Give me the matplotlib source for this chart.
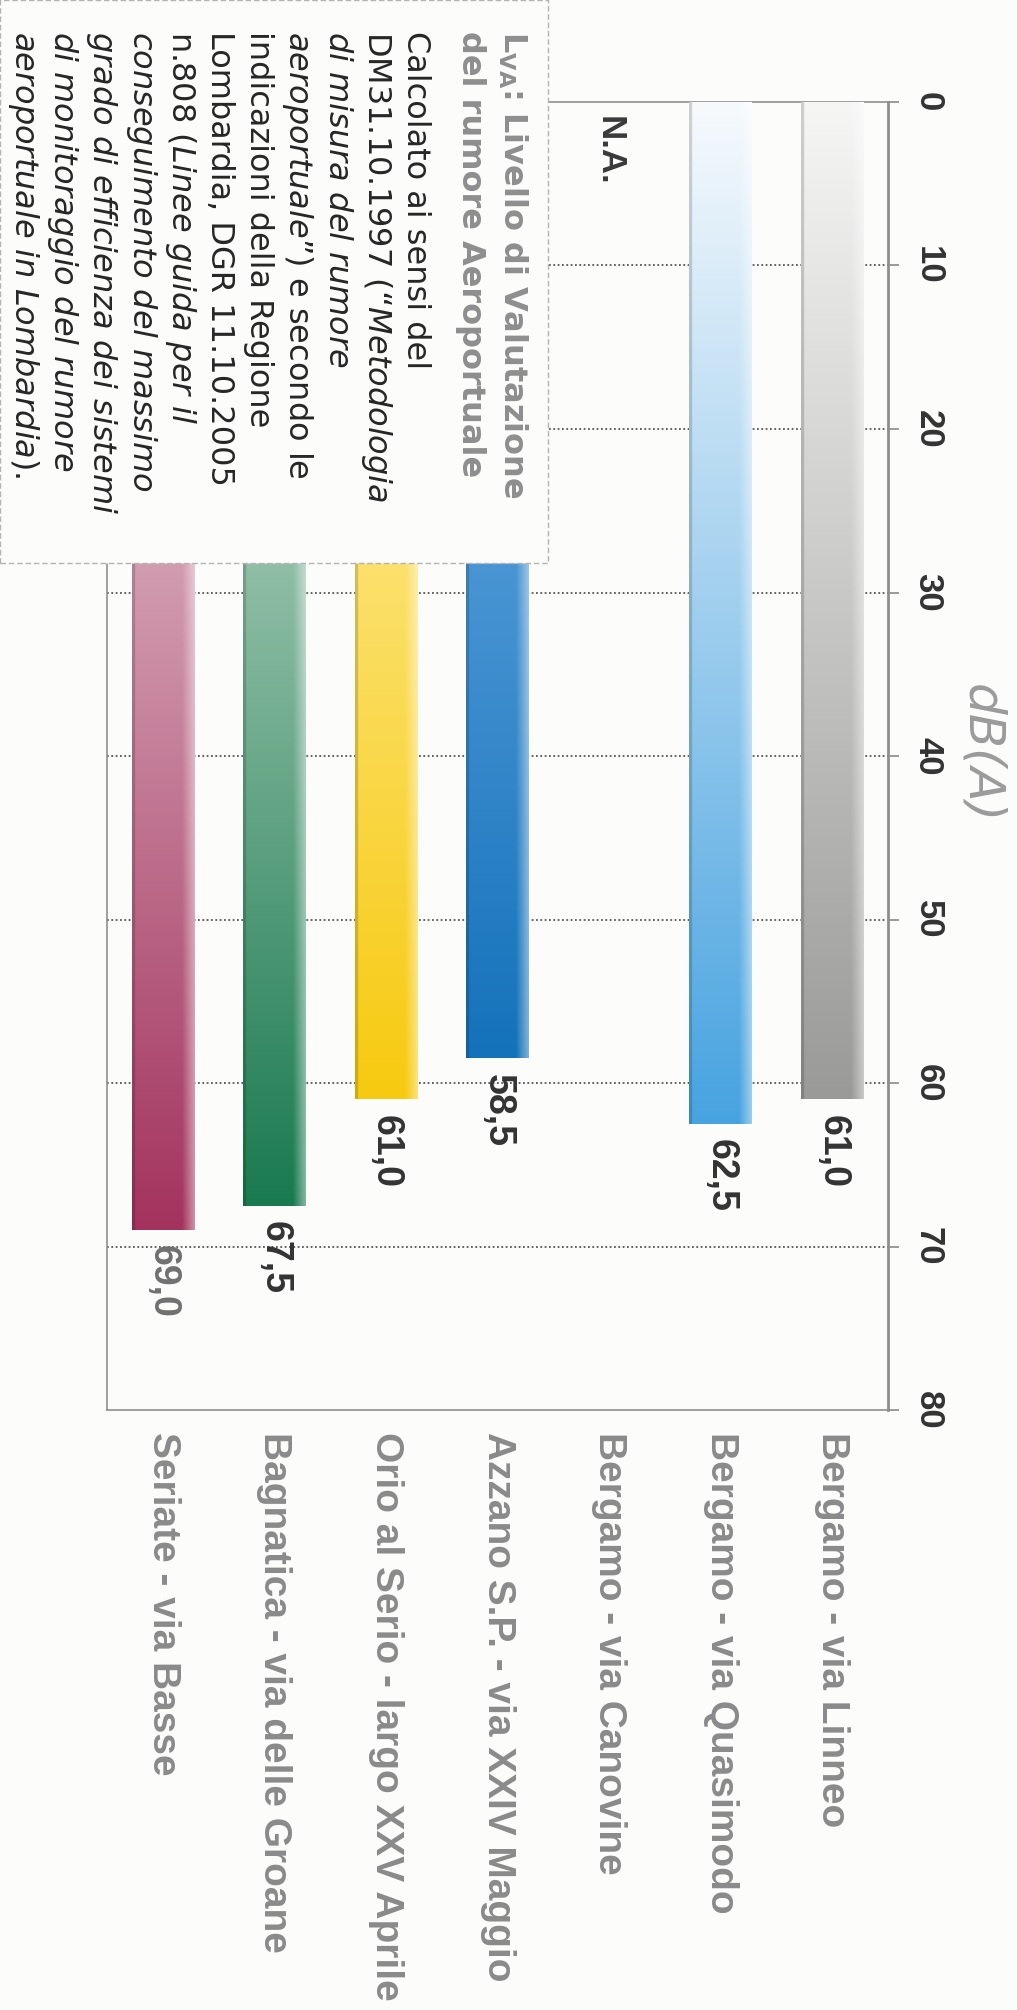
import numpy as np
import matplotlib.pyplot as plt
from matplotlib.colors import to_rgb
from matplotlib.patches import Rectangle

plt.rcParams["mathtext.fontset"] = "custom"
plt.rcParams["mathtext.rm"] = "DejaVu Sans"
plt.rcParams["mathtext.it"] = "DejaVu Sans:italic"
plt.rcParams["mathtext.bf"] = "DejaVu Sans:bold"

# data
sites = ["Bergamo - via Linneo", "Bergamo - via Quasimodo", "Bergamo - via Canovine",
         "Azzano S.P. - via XXIV Maggio", "Orio al Serio - largo XXV Aprile",
         "Bagnatica - via delle Groane", "Seriate - via Basse"]
lva = [61.0, 62.5, np.nan, 58.5, 61.0, 67.5, 69.0]
top_colors = ["#f6f6f5", "#f7fafd", "#ffffff", "#7cb6ec", "#fff4bc", "#e4efe4", "#f2e5ea"]
end_colors = ["#9a9a98", "#47a3e0", "#ffffff", "#1472ba", "#f7ca10", "#1a7a4f", "#a3335d"]
value_colors = ["#333333", "#333333", "#333333", "#333333", "#333333", "#333333", "#707070"]
ticks = list(range(0, 90, 10))

title_lines = [r"$\mathbf{L}_{\mathbf{VA}}$: Livello di Valutazione",
               "del rumore Aeroportuale"]
note_lines = ["Calcolato ai sensi del",
              r"DM31.10.1997 (“$\mathit{Metodologia}$",
              r"$\mathit{di\ misura\ del\ rumore}$",
              r"$\mathit{aeroportuale}$”) e secondo le",
              "indicazioni della Regione",
              "Lombardia, DGR 11.10.2005",
              r"n.808 ($\mathit{Linee\ guida\ per\ il}$",
              r"$\mathit{conseguimento\ del\ massimo}$",
              r"$\mathit{grado\ di\ efficienza\ dei\ sistemi}$",
              r"$\mathit{di\ monitoraggio\ del\ rumore}$",
              r"$\mathit{aeroportuale\ in\ Lombardia}$)."]

W, H = 1017, 2010
paper = "#fcfcfa"
label_font = "Liberation Sans"


def fx(px):
    return px / W


def fy(py):
    return 1 - py / H


fig = plt.figure(figsize=(W / 100, H / 100), dpi=100, facecolor=paper)
ax = fig.add_axes([fx(107), fy(1410), fx(888) - fx(107), fy(102) - fy(1410)])
ax.set_facecolor("none")

x = np.arange(len(sites))
bars = ax.bar(x, lva, width=0.56, color="none", edgecolor="none", zorder=3)

# gradient fill for each bar (light at 0 dB, saturated at the end)
ncol = 60
s = np.linspace(0, 1, ncol)
for rect, c0, c1 in zip(bars, top_colors, end_colors):
    h = rect.get_height()
    if np.isnan(h):
        continue
    t = np.linspace(0, 1, 300)[:, None]
    grad = (1 - t) * np.array(to_rgb(c0)) + t * np.array(to_rgb(c1))
    img = np.repeat(grad[:, None, :], ncol, axis=1)
    shade = np.ones(ncol)
    shade[s < 0.05] = 0.84
    img = img * shade[None, :, None]
    hl = np.clip((s - 0.8) / 0.2, 0, 1) * 0.45
    img = img + (1 - img) * hl[None, :, None]
    x0, w = rect.get_x(), rect.get_width()
    ax.imshow(np.clip(img, 0, 1), extent=(x0 + w, x0, h, 0), aspect="auto",
              interpolation="bilinear", zorder=3)

for xi, v, c in zip(x, lva, value_colors):
    if np.isnan(v):
        ax.annotate("N.A.", xy=(xi, 0), xytext=(0, -10), textcoords="offset points",
                    rotation=-90, ha="center", va="top", fontsize=25,
                    fontweight="bold", color="#3a3a3a", family=label_font, zorder=4)
    else:
        ax.annotate(f"{v:.1f}".replace(".", ","), xy=(xi, v), xytext=(0, -11),
                    textcoords="offset points", rotation=-90, ha="center", va="top",
                    fontsize=27, fontweight="bold", color=c, family=label_font, zorder=4)

for yv in ticks[1:-1]:
    ax.axhline(yv, color="#3a3a3a", lw=1.3, ls=(0, (1, 1.4)), alpha=0.85, zorder=1)

ax.set_xlim(len(sites) - 0.5, -0.5)
ax.set_ylim(80, 0)
ax.yaxis.tick_right()
ax.set_yticks(ticks, [str(t) for t in ticks], rotation=-90, ha="left", va="center",
              fontsize=25, fontweight="bold", color="#333333", family=label_font)
ax.tick_params(axis="y", direction="out", length=8, width=1.2, color="#8a8a8a", pad=9)
ax.set_xticks(x, sites, rotation=-90, ha="center", va="top", fontsize=28,
              fontweight="bold", color="#8a8a8a", family=label_font)
ax.tick_params(axis="x", length=0, pad=16)

for side, spine in ax.spines.items():
    spine.set_color("#8f8f8f")
    spine.set_linewidth(2.0 if side == "right" else 1.2)

# note box in the upper left corner
fig.add_artist(Rectangle((0, fy(563)), fx(548), 563 / H, transform=fig.transFigure,
                         facecolor=paper, edgecolor="#b4b4b4", lw=1.0,
                         ls=(0, (4, 2)), zorder=10))
for i, line in enumerate(title_lines):
    fig.text(fx(503 - 41 * i), fy(31), line, rotation=-90, rotation_mode="anchor",
             ha="left", va="baseline", fontsize=23, fontweight="bold",
             color="#8e8e8e", zorder=11)
for i, line in enumerate(note_lines):
    fig.text(fx(407 - 39.2 * i), fy(31), line, rotation=-90, rotation_mode="anchor",
             ha="left", va="baseline", fontsize=23, color="#262626", zorder=11)

fig.text(fx(981), fy(754), "dB(A)", rotation=-90, ha="center", va="center",
         fontsize=36, style="italic", color="#9b9b9b")

fig.savefig("out.png", dpi=100, facecolor=paper)
